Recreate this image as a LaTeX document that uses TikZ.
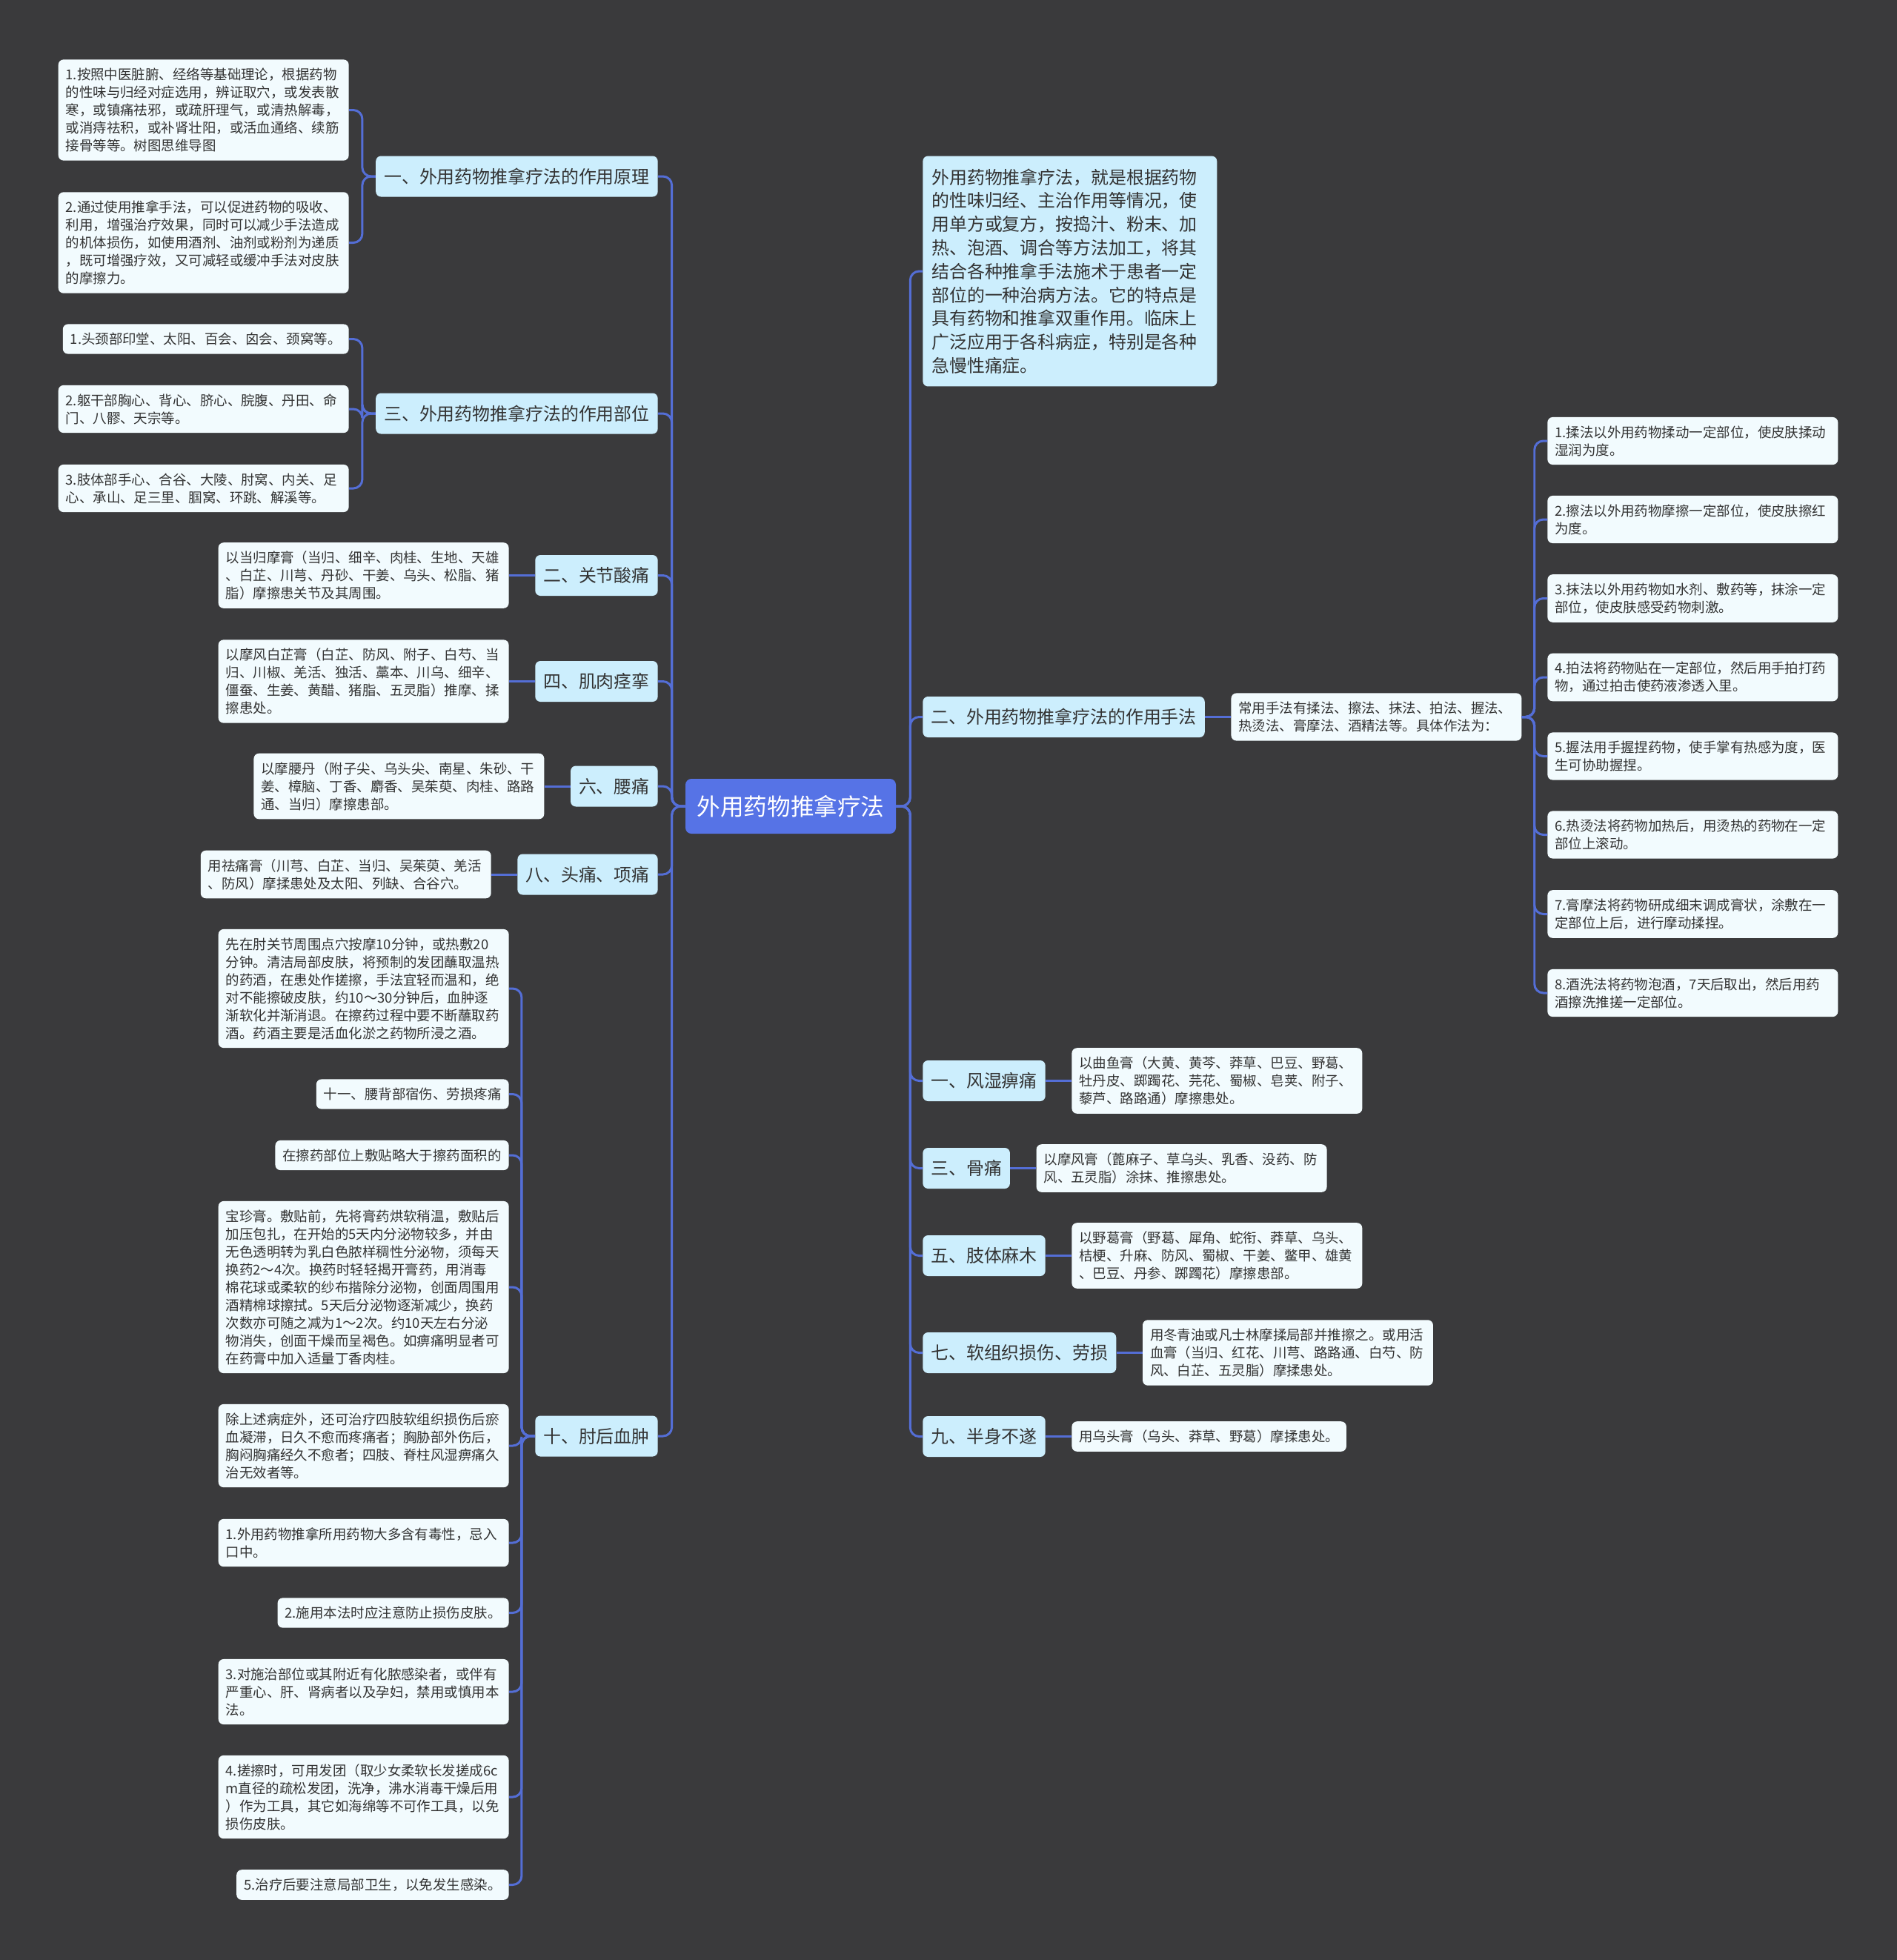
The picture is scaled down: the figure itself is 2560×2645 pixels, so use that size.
\documentclass[tikz,border=0pt]{standalone}
\usepackage{fontspec}
\setmainfont{Noto Sans CJK SC}
\usetikzlibrary{positioning}
\definecolor{hei}{RGB}{58,58,60}
\definecolor{genlan}{RGB}{86,115,230}
\definecolor{zhilan}{RGB}{204,238,253}
\definecolor{yebai}{RGB}{242,251,254}
\definecolor{xianlan}{RGB}{84,110,214}
\definecolor{zi}{RGB}{51,51,51}
\tikzset{
  gen/.style={fill=genlan,text=white,rounded corners=0.16cm,font=\fontsize{18pt}{22pt}\selectfont,
              inner xsep=0.31cm,inner ysep=0.1cm,minimum height=1.48cm},
  zhi/.style={fill=zhilan,text=zi,rounded corners=0.14cm,font=\fontsize{13.6pt}{18.1pt}\selectfont,
              inner xsep=0.22cm,inner ysep=0.1cm,minimum height=1.1cm},
  shuoming/.style={zhi,align=left,text width=7.46cm,inner xsep=0.24cm,inner ysep=0.34cm},
  yekuang/.style={fill=yebai,text=zi,rounded corners=0.14cm,font=\fontsize{10.5pt}{13.66pt}\selectfont,
                  align=left,inner xsep=0.2cm,inner ysep=0.23cm},
  ye/.style={yekuang,text width=7.44cm},
  lian/.style={draw=xianlan,line width=1.7pt,rounded corners=0.24cm},
}
\begin{document}
\begin{tikzpicture}[x=0.02cm,y=-0.02cm]
  \fill[hei] (0,0) rectangle (2560,2645);
  \node[gen] (wy) at (1067,1088) {外用药物推拿疗法};

  % zuo: yi, zuoyong yuanli
  \node[zhi,anchor=east] (z1) at (888,238) {一、外用药物推拿疗法的作用原理};
  \node[ye,anchor=east] (z1a) at (471,148.5) {1.按照中医脏腑、经络等基础理论，根据药物\\的性味与归经对症选用，辨证取穴，或发表散\\寒，或镇痛祛邪，或疏肝理气，或清热解毒，\\或消痔祛积，或补肾壮阳，或活血通络、续筋\\接骨等等。树图思维导图};
  \node[ye,anchor=east] (z1b) at (471,327.5) {2.通过使用推拿手法，可以促进药物的吸收、\\利用，增强治疗效果，同时可以减少手法造成\\的机体损伤，如使用酒剂、油剂或粉剂为递质\\，既可增强疗效，又可减轻或缓冲手法对皮肤\\的摩擦力。};
  % zuo: san, zuoyong buwei
  \node[zhi,anchor=east] (z3) at (888,558) {三、外用药物推拿疗法的作用部位};
  \node[yekuang,anchor=east] (z3a) at (471,457.5) {1.头颈部印堂、太阳、百会、囟会、颈窝等。};
  \node[ye,anchor=east] (z3b) at (471,552) {2.躯干部胸心、背心、脐心、脘腹、丹田、命\\门、八髎、天宗等。};
  \node[ye,anchor=east] (z3c) at (471,659) {3.肢体部手心、合谷、大陵、肘窝、内关、足\\心、承山、足三里、腘窝、环跳、解溪等。};
  % zuo: bingzheng
  \node[zhi,anchor=east] (z2) at (888,776.5) {二、关节酸痛};
  \node[ye,left=0.7cm of z2] (z2a) {以当归摩膏（当归、细辛、肉桂、生地、天雄\\、白芷、川芎、丹砂、干姜、乌头、松脂、猪\\脂）摩擦患关节及其周围。};
  \node[zhi,anchor=east] (z4) at (888,919.5) {四、肌肉痉挛};
  \node[ye,left=0.7cm of z4] (z4a) {以摩风白芷膏（白芷、防风、附子、白芍、当\\归、川椒、羌活、独活、藁本、川乌、细辛、\\僵蚕、生姜、黄醋、猪脂、五灵脂）推摩、揉\\擦患处。};
  \node[zhi,anchor=east] (z6) at (888,1061) {六、腰痛};
  \node[ye,left=0.7cm of z6] (z6a) {以摩腰丹（附子尖、乌头尖、南星、朱砂、干\\姜、樟脑、丁香、麝香、吴茱萸、肉桂、路路\\通、当归）摩擦患部。};
  \node[zhi,anchor=east] (z8) at (888,1180) {八、头痛、项痛};
  \node[ye,left=0.7cm of z8] (z8a) {用祛痛膏（川芎、白芷、当归、吴茱萸、羌活\\、防风）摩揉患处及太阳、列缺、合谷穴。};
  % zuo: shi, zhouhou xuezhong
  \node[zhi,anchor=east] (z10) at (888,1938) {十、肘后血肿};
  \node[ye,anchor=east] (z10a) at (687,1334) {先在肘关节周围点穴按摩10分钟，或热敷20\\分钟。清洁局部皮肤，将预制的发团蘸取温热\\的药酒，在患处作搓擦，手法宜轻而温和，绝\\对不能擦破皮肤，约10～30分钟后，血肿逐\\渐软化并渐消退。在擦药过程中要不断蘸取药\\酒。药酒主要是活血化淤之药物所浸之酒。};
  \node[yekuang,anchor=east] (z10b) at (687,1476.5) {十一、腰背部宿伤、劳损疼痛};
  \node[yekuang,anchor=east] (z10c) at (687,1559) {在擦药部位上敷贴略大于擦药面积的};
  \node[ye,anchor=east] (z10d) at (687,1737) {宝珍膏。敷贴前，先将膏药烘软稍温，敷贴后\\加压包扎，在开始的5天内分泌物较多，并由\\无色透明转为乳白色脓样稠性分泌物，须每天\\换药2～4次。换药时轻轻揭开膏药，用消毒\\棉花球或柔软的纱布揩除分泌物，创面周围用\\酒精棉球擦拭。5天后分泌物逐渐减少，换药\\次数亦可随之减为1～2次。约10天左右分泌\\物消失，创面干燥而呈褐色。如痹痛明显者可\\在药膏中加入适量丁香肉桂。};
  \node[ye,anchor=east] (z10e) at (687,1951) {除上述病症外，还可治疗四肢软组织损伤后瘀\\血凝滞，日久不愈而疼痛者；胸胁部外伤后，\\胸闷胸痛经久不愈者；四肢、脊柱风湿痹痛久\\治无效者等。};
  \node[ye,anchor=east] (z10f) at (687,2082) {1.外用药物推拿所用药物大多含有毒性，忌入\\口中。};
  \node[yekuang,anchor=east] (z10g) at (687,2176.5) {2.施用本法时应注意防止损伤皮肤。};
  \node[ye,anchor=east] (z10h) at (687,2283) {3.对施治部位或其附近有化脓感染者，或伴有\\严重心、肝、肾病者以及孕妇，禁用或慎用本\\法。};
  \node[ye,anchor=east] (z10i) at (687,2425) {4.搓擦时，可用发团（取少女柔软长发搓成6c\\m直径的疏松发团，洗净，沸水消毒干燥后用\\）作为工具，其它如海绵等不可作工具，以免\\损伤皮肤。};
  \node[yekuang,anchor=east] (z10j) at (687,2543.5) {5.治疗后要注意局部卫生，以免发生感染。};

  % you: shuoming
  \node[shuoming,anchor=west] (ysm) at (1245,366) {外用药物推拿疗法，就是根据药物\\的性味归经、主治作用等情况，使\\用单方或复方，按捣汁、粉末、加\\热、泡酒、调合等方法加工，将其\\结合各种推拿手法施术于患者一定\\部位的一种治病方法。它的特点是\\具有药物和推拿双重作用。临床上\\广泛应用于各科病症，特别是各种\\急慢性痛症。};
  % you: er, zuoyong shoufa
  \node[zhi,anchor=west] (y2) at (1245,967.5) {二、外用药物推拿疗法的作用手法};
  \node[ye,right=0.7cm of y2] (y2a) {常用手法有揉法、擦法、抹法、拍法、握法、\\热烫法、膏摩法、酒精法等。具体作法为：};
  \node[ye,anchor=west] (s1) at (2088,595) {1.揉法以外用药物揉动一定部位，使皮肤揉动\\湿润为度。};
  \node[ye,anchor=west] (s2) at (2088,701) {2.擦法以外用药物摩擦一定部位，使皮肤擦红\\为度。};
  \node[ye,anchor=west] (s3) at (2088,807.5) {3.抹法以外用药物如水剂、敷药等，抹涂一定\\部位，使皮肤感受药物刺激。};
  \node[ye,anchor=west] (s4) at (2088,914) {4.拍法将药物贴在一定部位，然后用手拍打药\\物，通过拍击使药液渗透入里。};
  \node[ye,anchor=west] (s5) at (2088,1020.5) {5.握法用手握捏药物，使手掌有热感为度，医\\生可协助握捏。};
  \node[ye,anchor=west] (s6) at (2088,1126.5) {6.热烫法将药物加热后，用烫热的药物在一定\\部位上滚动。};
  \node[ye,anchor=west] (s7) at (2088,1233.5) {7.膏摩法将药物研成细末调成膏状，涂敷在一\\定部位上后，进行摩动揉捏。};
  \node[ye,anchor=west] (s8) at (2088,1340) {8.酒洗法将药物泡酒，7天后取出，然后用药\\酒擦洗推搓一定部位。};
  % you: bingzheng
  \node[zhi,anchor=west] (y1) at (1245,1458.5) {一、风湿痹痛};
  \node[ye,right=0.7cm of y1] (y1a) {以曲鱼膏（大黄、黄芩、莽草、巴豆、野葛、\\牡丹皮、踯躅花、芫花、蜀椒、皂荚、附子、\\藜芦、路路通）摩擦患处。};
  \node[zhi,anchor=west] (y3) at (1245,1576.5) {三、骨痛};
  \node[ye,right=0.7cm of y3] (y3a) {以摩风膏（蓖麻子、草乌头、乳香、没药、防\\风、五灵脂）涂抹、推擦患处。};
  \node[zhi,anchor=west] (y5) at (1245,1694.5) {五、肢体麻木};
  \node[ye,right=0.7cm of y5] (y5a) {以野葛膏（野葛、犀角、蛇衔、莽草、乌头、\\桔梗、升麻、防风、蜀椒、干姜、鳖甲、雄黄\\、巴豆、丹参、踯躅花）摩擦患部。};
  \node[zhi,anchor=west] (y7) at (1245,1825.5) {七、软组织损伤、劳损};
  \node[ye,right=0.7cm of y7] (y7a) {用冬青油或凡士林摩揉局部并推擦之。或用活\\血膏（当归、红花、川芎、路路通、白芍、防\\风、白芷、五灵脂）摩揉患处。};
  \node[zhi,anchor=west] (y9) at (1245,1938.5) {九、半身不遂};
  \node[yekuang,right=0.7cm of y9] (y9a) {用乌头膏（乌头、莽草、野葛）摩揉患处。};

  % lianxian
  \foreach \n in {z1,z3,z2,z4,z6,z8,z10} \draw[lian] (wy.west) -- ++(-18,0) |- (\n.east);
  \foreach \n in {ysm,y2,y1,y3,y5,y7,y9} \draw[lian] (wy.east) -- ++(19,0) |- (\n.west);
  \foreach \n in {z1a,z1b} \draw[lian] (z1.west) -- ++(-18,0) |- (\n.east);
  \foreach \n in {z3a,z3b,z3c} \draw[lian] (z3.west) -- ++(-18,0) |- (\n.east);
  \foreach \n in {a,...,j} \draw[lian] (z10.west) -- ++(-18,0) |- (z10\n.east);
  \foreach \a/\b in {z2/z2a,z4/z4a,z6/z6a,z8/z8a} \draw[lian] (\a.west) -- (\b.east);
  \foreach \a/\b in {y2/y2a,y1/y1a,y3/y3a,y5/y5a,y7/y7a,y9/y9a} \draw[lian] (\a.east) -- (\b.west);
  \foreach \i in {1,...,8} \draw[lian] (y2a.east) -- ++(17,0) |- (s\i.west);
\end{tikzpicture}
\end{document}
